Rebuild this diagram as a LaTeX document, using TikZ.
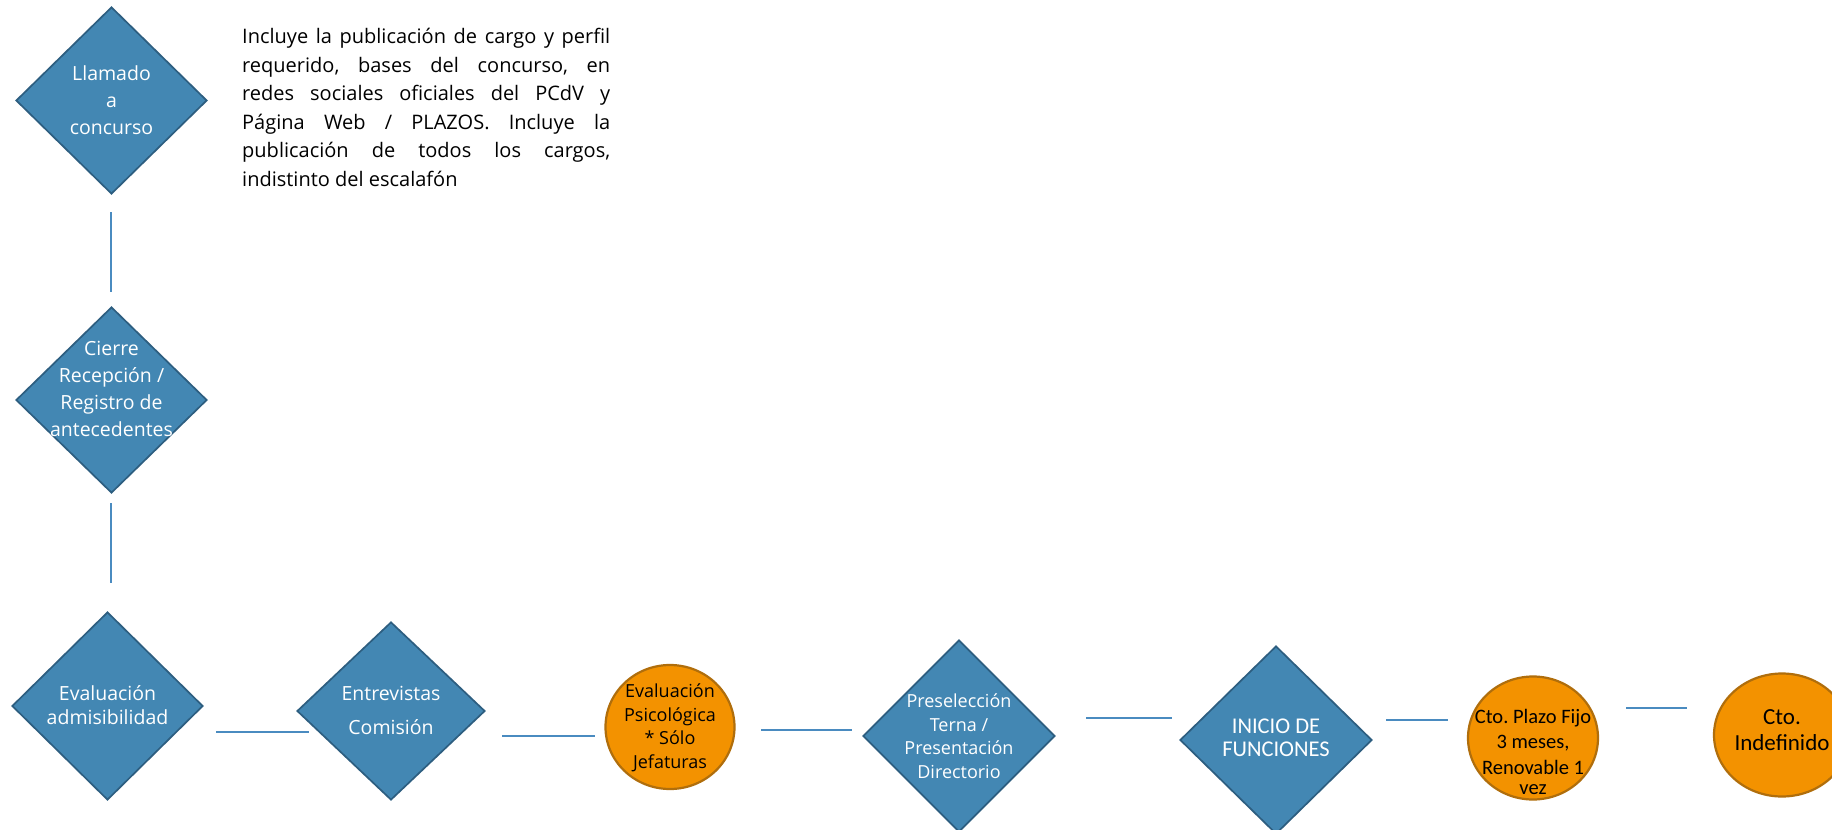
\documentclass[tikz,border=0pt]{standalone}
\usepackage{fontspec}
\setmainfont{Open Sans}
\newfontfamily\calib{Carlito}
\usetikzlibrary{shapes.geometric}
\definecolor{bfill}{HTML}{4387B3}
\definecolor{bdraw}{HTML}{2D5E80}
\definecolor{ofill}{HTML}{F39200}
\definecolor{odraw}{HTML}{B06E0C}
\definecolor{lcol}{HTML}{4A8BC0}
\tikzset{
  dia/.style={shape=diamond, draw=bdraw, fill=bfill, line width=1.7pt, inner sep=0pt},
  oval/.style={shape=ellipse, draw=odraw, fill=ofill, line width=2.2pt, inner sep=0pt},
  wtext/.style={text=white, align=center, inner sep=0pt, font=\fontsize{19.5}{27}\selectfont},
  ktext/.style={text=black, align=center, inner sep=0pt},
  conn/.style={draw=lcol, line width=1.8pt},
}
\begin{document}
\frenchspacing
\begin{tikzpicture}[x=1pt,y=-1pt]
\useasboundingbox (0,0) rectangle (1832,830);
\fill[white] (0,0) rectangle (1832,830);

% shapes
\node[dia, minimum width=191pt, minimum height=187pt] (llamado) at (111.5,100.5) {};
\node[dia, minimum width=191pt, minimum height=186pt] (cierre) at (111.5,400) {};
\node[dia, minimum width=191pt, minimum height=188pt] (admis) at (107.5,706) {};
\node[dia, minimum width=188pt, minimum height=178pt] (entrev) at (391,711) {};
\node[oval, minimum width=129pt, minimum height=124pt] (psico) at (670,727) {};
\node[dia, minimum width=192pt, minimum height=192pt] (presel) at (959,736) {};
\node[dia, minimum width=192pt, minimum height=188pt] (inicio) at (1276,740) {};
\node[oval, minimum width=130pt, minimum height=123pt] (plazo) at (1533,738) {};
\node[oval, minimum width=136pt, minimum height=123pt] (indef) at (1782,735) {};

% texts
\node[wtext] (tllamado) at (111.5,100) {Llamado\\a\\concurso};
\node[wtext] (tcierre) at (111.5,389) {Cierre\\Recepción /\\Registro de\\antecedentes};
\node[wtext, font=\fontsize{19.5}{24}\selectfont] (tadmis) at (107.5,705) {Evaluación\\admisibilidad};
\node[wtext, font=\fontsize{19.5}{34}\selectfont] (tentrev) at (391,710) {Entrevistas\\Comisión};
\node[ktext, font=\fontsize{18}{23.5}\selectfont] (tpsico) at (670,728) {Evaluación\\Psicológica\\* Sólo\\Jefaturas};
\node[wtext, font=\fontsize{18}{23.5}\selectfont] (tpresel) at (959,736) {Preselección\\Terna /\\Presentación\\Directorio};
\node[wtext, font=\calib\fontsize{22.5}{22.5}\selectfont] (tinicio) at (1276,738) {INICIO DE\\FUNCIONES};
\node[ktext, font=\calib\fontsize{20.5}{25.5}\selectfont] (tplazo) at (1533,752) {Cto. Plazo Fijo\\3 meses,\\Renovable 1\\[-5pt]vez};
\node[ktext, font=\calib\fontsize{23}{26}\selectfont] (tindef) at (1782,730) {Cto.\\Indefinido};

% paragraph
\node[anchor=north west, inner sep=0pt, text width=368pt, align=justify,
      font=\fontsize{20}{28.5}\selectfont] (desc) at (242,28)
  {Incluye la publicación de cargo y perfil\linebreak
   requerido, bases del concurso, en\linebreak
   redes sociales oficiales del PCdV y\linebreak
   Página Web / PLAZOS. Incluye la\linebreak
   publicación de todos los cargos,\linebreak
   indistinto del escalafón};

% connector segments
\coordinate (v1a) at (111,212); \coordinate (v1b) at (111,292);
\coordinate (v2a) at (111,503); \coordinate (v2b) at (111,583);
\coordinate (h1a) at (216,732); \coordinate (h1b) at (309,732);
\coordinate (h2a) at (502,736); \coordinate (h2b) at (595,736);
\coordinate (h3a) at (761,730); \coordinate (h3b) at (852,730);
\coordinate (h4a) at (1086,718); \coordinate (h4b) at (1172,718);
\coordinate (h5a) at (1386,720); \coordinate (h5b) at (1448,720);
\coordinate (h6a) at (1626,708); \coordinate (h6b) at (1687,708);
\draw[conn] (v1a) -- (v1b);
\draw[conn] (v2a) -- (v2b);
\draw[conn] (h1a) -- (h1b);
\draw[conn] (h2a) -- (h2b);
\draw[conn] (h3a) -- (h3b);
\draw[conn] (h4a) -- (h4b);
\draw[conn] (h5a) -- (h5b);
\draw[conn] (h6a) -- (h6b);
\end{tikzpicture}
\end{document}
